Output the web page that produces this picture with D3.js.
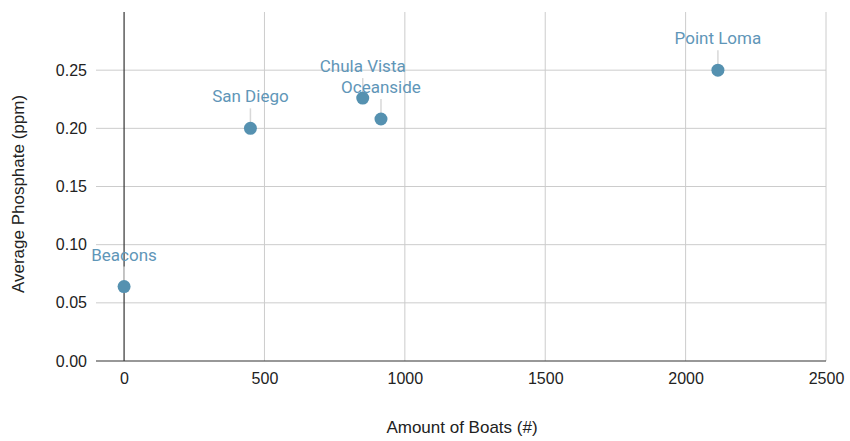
<!DOCTYPE html>
<html><head><meta charset="utf-8">
<script src="https://cdn.jsdelivr.net/npm/d3@7"></script>
<style>body{margin:0;background:#fff}svg{display:block;font-family:Roboto,Arial,sans-serif}</style>
</head><body><svg id="c" width="850" height="441"></svg>
<script>
const names = ["Beacons","San Diego","Chula Vista","Oceanside","Point Loma"];
const boats = [0, 450, 850, 915, 2115];
const phosphate = [0.064, 0.200, 0.226, 0.208, 0.250];
const xTicks = [0, 500, 1000, 1500, 2000, 2500];
const yTicks = [0, 0.05, 0.10, 0.15, 0.20, 0.25];

const svg = d3.select("#c");
const m = {l:96, r:826, t:12, b:361};
const x = d3.scaleLinear().domain([-100, 2500]).range([m.l, m.r]);
const y = d3.scaleLinear().domain([0, 0.30]).range([m.b, m.t]);
const grid = "#cccccc", col = "#5591b0", lab = "#5f96b8";
const axFont = "'Liberation Sans', Arial, sans-serif";

// grid
svg.append("g").selectAll("line").data(yTicks.filter(d=>d>0)).join("line")
  .attr("x1", m.l).attr("x2", m.r).attr("y1", d=>y(d)).attr("y2", d=>y(d))
  .attr("stroke", grid).attr("stroke-width", 1);
svg.append("g").selectAll("line").data(xTicks.filter(d=>d!==0)).join("line")
  .attr("x1", d=>x(d)).attr("x2", d=>x(d)).attr("y1", m.t).attr("y2", m.b)
  .attr("stroke", grid).attr("stroke-width", 1);
// zero lines
svg.append("line").attr("x1", x(0)).attr("x2", x(0)).attr("y1", m.t).attr("y2", m.b)
  .attr("stroke", "#333").attr("stroke-width", 1.2);
svg.append("line").attr("x1", m.l).attr("x2", m.r).attr("y1", y(0)).attr("y2", y(0))
  .attr("stroke", "#333").attr("stroke-width", 1.2);

// axes (text only)
const xa = svg.append("g").attr("transform", `translate(0,${m.b})`)
  .call(d3.axisBottom(x).tickValues(xTicks).tickSize(0).tickPadding(12).tickFormat(d3.format("d")));
xa.select(".domain").remove();
xa.selectAll("text").attr("font-size", 16).attr("fill", "#222").attr("font-family", axFont);
const ya = svg.append("g").attr("transform", `translate(${m.l},0)`)
  .call(d3.axisLeft(y).tickValues(yTicks).tickSize(0).tickPadding(9).tickFormat(d3.format(".2f")));
ya.select(".domain").remove();
ya.selectAll("text").attr("font-size", 16).attr("fill", "#222").attr("font-family", axFont);

// titles
svg.append("text").attr("x", 462).attr("y", 433).attr("text-anchor", "middle")
  .attr("font-family", axFont).attr("font-size", 17).attr("fill", "#222").text("Amount of Boats (#)");
svg.append("text").attr("transform", "translate(24,194) rotate(-90)").attr("text-anchor", "middle")
  .attr("font-family", axFont).attr("font-size", 17).attr("fill", "#222").text("Average Phosphate (ppm)");

const data = names.map((n,i)=>({n, bx: boats[i], p: phosphate[i]}));
// leader lines
svg.append("g").selectAll("line").data(data).join("line")
  .attr("x1", d=>x(d.bx)).attr("x2", d=>x(d.bx))
  .attr("y1", d=>y(d.p)-20).attr("y2", d=>y(d.p))
  .attr("stroke", "#d8d8d8").attr("stroke-width", 1.5);
// points
svg.append("g").selectAll("circle").data(data).join("circle")
  .attr("cx", d=>x(d.bx)).attr("cy", d=>y(d.p)).attr("r", 6.5).attr("fill", col);
// labels
svg.append("g").selectAll("text").data(data).join("text")
  .attr("x", d=>x(d.bx)).attr("y", d=>y(d.p)-26).attr("text-anchor", "middle")
  .attr("font-size", 17).attr("fill", lab).text(d=>d.n);
</script></body></html>
